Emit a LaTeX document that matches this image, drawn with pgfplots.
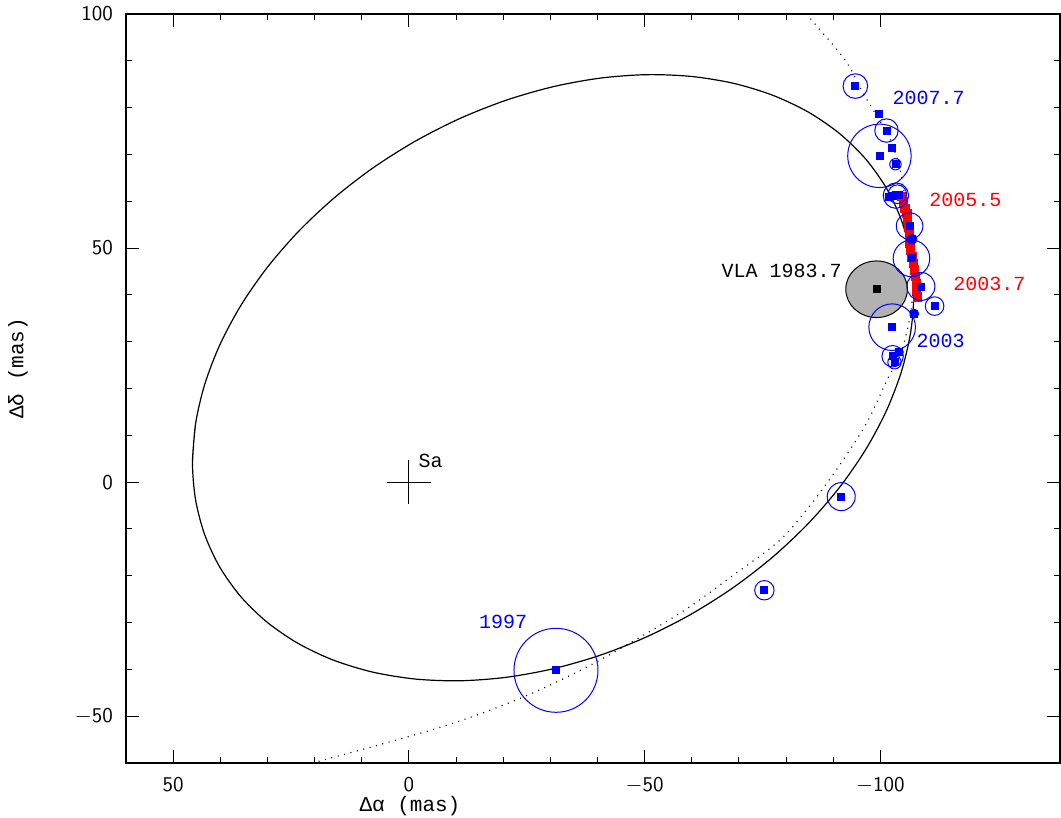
\documentclass[border=0pt]{standalone}
\usepackage{fontspec}
\setmainfont{Liberation Mono}
\usepackage{pgfplots}
\pgfplotsset{compat=1.18}

\begin{document}
\begin{tikzpicture}
\begin{axis}[
  name=ax,
  scale only axis, width=467pt, height=374.5pt,
  x dir=reverse,
  xmin=-138.1, xmax=60, ymin=-60, ymax=100,
  xtick={50,0,-50,-100}, xticklabels={50,0,$-$50,$-$100},
  ytick={-50,0,50,100}, yticklabels={$-$50,0,50,100},
  minor tick num=4,
  tick align=inside,
  major tick length=6.3pt, minor tick length=3.2pt,
  tick style={black, line width=0.5pt},
  axis line style={line width=0.6pt},
  ticklabel style={font=\fontsize{10.5}{12}\sffamily},
  xticklabel style={inner sep=0pt, yshift=-7pt},
  yticklabel style={xshift=-3pt},
  xlabel={Δα (mas)},
  xlabel style={at={(axis description cs:0.304,-0.0574)}, anchor=center, inner sep=0pt, font=\fontsize{10.5}{12}\selectfont},
  ylabel={Δδ (mas)},
  ylabel style={at={(axis description cs:-0.1156,0.527)}, anchor=center, font=\fontsize{10.5}{12}\selectfont},
  every node/.append style={font=\fontsize{9.8}{12}\selectfont},
]
% fitted orbit
\addplot[black, line width=0.6pt, smooth] coordinates {
(45.9,4.2) (45.245,12.47) (43.294,20.908) (40.077,29.369) (35.651,37.71)
(30.091,45.787) (23.494,53.462) (15.97,60.604) (7.65,67.091) (-1.325,72.811)
(-10.8,77.667) (-20.614,81.575) (-30.6,84.47) (-40.586,86.301) (-50.4,87.037)
(-59.875,86.665) (-68.85,85.191) (-77.17,82.642) (-84.694,79.06) (-91.291,74.507)
(-96.851,69.06) (-101.277,62.813) (-104.494,55.874) (-106.445,48.36) (-107.1,40.4)
(-106.445,32.13) (-104.494,23.692) (-101.277,15.231) (-96.851,6.89) (-91.291,-1.187)
(-84.694,-8.862) (-77.17,-16.004) (-68.85,-22.491) (-59.875,-28.211) (-50.4,-33.067)
(-40.586,-36.975) (-30.6,-39.87) (-20.614,-41.701) (-10.8,-42.437) (-1.325,-42.065)
(7.65,-40.591) (15.97,-38.042) (23.494,-34.46) (30.091,-29.907) (35.651,-24.46)
(40.077,-18.213) (43.294,-11.274) (45.245,-3.76) (45.9,4.2) (45.245,12.47)
};
% earlier orbit (dotted)
\addplot[black, line width=0.6pt, dash pattern=on 0.5pt off 2.8pt, smooth] coordinates {
(-80.5,106) (-84.4,100) (-92.5,90.2) (-96.3,83.1) (-98.5,79.5) (-102.1,73.1)
(-104.2,66.7) (-105.6,58) (-106.6,50) (-107,43) (-106.4,36) (-104.5,28)
(-101.4,21.8) (-97.3,13) (-92.1,4.7) (-85.7,-4.2) (-78.7,-12.4) (-68.1,-20.4)
(-57.5,-28.0) (-39.8,-38.4) (-24.3,-45.9) (-6.9,-52.3) (20.4,-60) (28,-62)
};
% VLA 1983.7
\addplot[only marks, mark=*, mark size=14.15pt,
  mark options={fill=black!30, draw=black, line width=0.5pt, xscale=1.088}]
  coordinates {(-99.2,41.2)};
% red track
\addplot[only marks, mark=square*, mark size=2.1pt, color=red] coordinates {
(-104.5,61.0) (-104.9,59.9) (-105.2,58.5) (-105.6,57.4) (-105.7,56.0)
(-106.0,54.6) (-106.2,52.8) (-106.3,51.0) (-106.4,49.6) (-106.7,48.1)
(-107.0,46.7) (-107.2,45.3) (-107.4,43.9) (-107.6,42.5) (-107.7,41.0)
(-107.9,39.6)
};
% error circles
\addplot[scatter, only marks, mark=o,
  scatter/use mapped color={draw=blue},
  mark options={line width=0.5pt},
  visualization depends on={\thisrow{r}\as\rad},
  scatter/@pre marker code/.append style={/tikz/mark size=\rad}]
  table {
x y r
-94.7 84.6 6.15
-101.3 75.1 5.85
-99.8 69.7 15.85
-103.2 67.9 2.85
-101.9 61.0 2.0
-103.3 61.2 6.35
-103.6 61.5 4.65
-106.2 54.7 6.65
-106.7 51.9 2.5
-106.6 47.8 9.15
-108.6 41.8 7.0
-111.5 37.6 4.65
-107.2 36.0 2.15
-102.5 33.1 11.65
-104.0 27.8 2.0
-102.6 26.9 5.35
-103.0 25.6 3.35
-91.7 -3.1 7.0
-75.4 -23.1 4.85
-31.2 -40.2 21.0
};
% positions
\addplot[only marks, mark=square*, mark size=1.75pt, color=blue] coordinates {
(-94.7,84.6) (-99.6,78.6) (-101.3,75.1) (-102.5,71.3) (-99.8,69.7) (-103.2,67.9)
(-101.9,61.0) (-102.6,61.2) (-103.3,61.3) (-104.0,61.4)
(-106.2,54.7) (-106.7,51.9) (-106.6,47.8) (-108.6,41.8) (-111.5,37.6) (-107.2,36.0)
(-102.5,33.1) (-104.0,27.8) (-102.6,26.9) (-103.0,25.6)
(-91.7,-3.1) (-75.4,-23.1) (-31.2,-40.2)
};
\addplot[only marks, mark=square*, mark size=1.7pt, color=black] coordinates {(-99.2,41.2)};
% Sgr A* cross
\addplot[black, line width=0.6pt] coordinates {(4.67,0) (-4.67,0)};
\addplot[black, line width=0.6pt] coordinates {(0,4.7) (0,-4.7)};
\node[anchor=west, inner sep=0pt, text=blue] at (axis cs:-102.5,82.1) {2007.7};
\node[anchor=west, inner sep=0pt, text=red] at (axis cs:-110.3,60.3) {2005.5};
\node[anchor=west, inner sep=0pt, text=red] at (axis cs:-115.4,42.3) {2003.7};
\node[anchor=west, inner sep=0pt, text=blue] at (axis cs:-107.6,30.1) {2003};
\node[anchor=center, inner sep=0pt, text=blue] at (axis cs:-20.0,-29.9) {1997};
\node[anchor=east, inner sep=0pt] at (axis cs:-91.9,45.2) {VLA 1983.7};
\node[anchor=west, inner sep=0pt] at (axis cs:-2.0,4.5) {Sa};
\end{axis}
\pgfresetboundingbox
\path[use as bounding box] ([xshift=-63pt,yshift=-27.5pt]ax.south west) rectangle ([xshift=0.5pt,yshift=7pt]ax.north east);
\end{tikzpicture}
\end{document}
